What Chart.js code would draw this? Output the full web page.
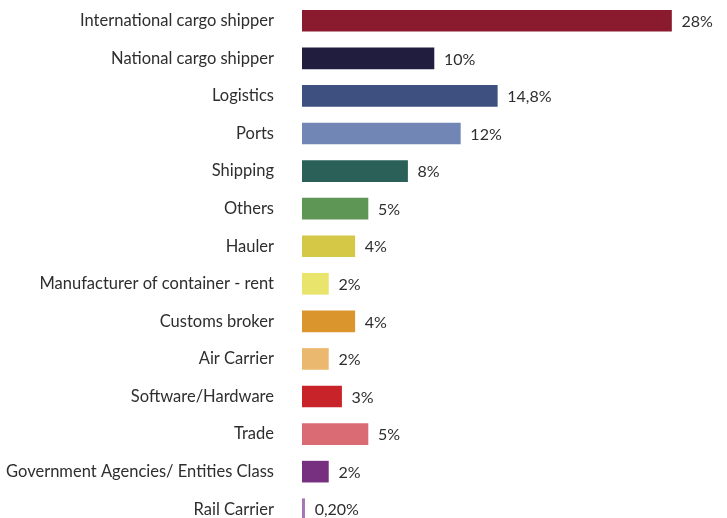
<!DOCTYPE html>
<html>
<head>
<meta charset="utf-8">
<script src="https://cdn.jsdelivr.net/npm/chart.js@4/dist/chart.umd.min.js"></script>
<style>
  html, body { margin: 0; padding: 0; background: #fff; overflow: hidden; }
  canvas { display: block; }
</style>
</head>
<body>
<canvas id="c" width="727" height="529"></canvas>
<script>
// Respondent profile: share of each activity sector
const categories = [
  "International cargo shipper",
  "National cargo shipper",
  "Logistics",
  "Ports",
  "Shipping",
  "Others",
  "Hauler",
  "Manufacturer of container - rent",
  "Customs broker",
  "Air Carrier",
  "Software/Hardware",
  "Trade",
  "Government Agencies/ Entities Class",
  "Rail Carrier"
];
const values = [28, 10, 14.8, 12, 8, 5, 4, 2, 4, 2, 3, 5, 2, 0.2];
const valueLabels = ["28%", "10%", "14,8%", "12%", "8%", "5%", "4%", "2%", "4%", "2%", "3%", "5%", "2%", "0,20%"];
const barColors = [
  "#8A1A2E", "#201D3F", "#3D5080", "#7286B5", "#2A6058", "#5E9655", "#D5C846",
  "#E9E46C", "#DA962C", "#EBB870", "#C9232A", "#DA6A74", "#76307F", "#A774B5"
];

const FONT = "Lato, 'Open Sans', sans-serif";
const TEXT = "#2e2e2e";

// Writes each value at the end of its bar
const valueLabelPlugin = {
  id: "valueLabels",
  afterDatasetsDraw(chart) {
    const ctx = chart.ctx;
    const meta = chart.getDatasetMeta(0);
    ctx.save();
    ctx.font = "16px " + FONT;
    ctx.fillStyle = TEXT;
    ctx.textAlign = "left";
    ctx.textBaseline = "middle";
    meta.data.forEach((bar, i) => {
      ctx.fillText(valueLabels[i], bar.x + 10, bar.y + 1);
    });
    ctx.restore();
  }
};

new Chart(document.getElementById("c"), {
  type: "bar",
  data: {
    labels: categories,
    datasets: [{
      data: values,
      backgroundColor: barColors,
      borderWidth: 0,
      barThickness: 21
    }]
  },
  options: {
    indexAxis: "y",
    responsive: false,
    maintainAspectRatio: false,
    animation: false,
    layout: { padding: { top: 2, bottom: 1, left: 0, right: 8 } },
    plugins: { legend: { display: false }, tooltip: { enabled: false } },
    scales: {
      x: {
        display: false,
        min: 0,
        max: 31.6
      },
      y: {
        grid: { display: false, drawTicks: false },
        border: { display: false },
        ticks: {
          color: TEXT,
          padding: 28,
          font: { family: FONT, size: 16.5 }
        },
        afterFit(scale) {
          scale.width = 302;
          scale.paddingTop = 0;
          scale.paddingBottom = 0;
        }
      }
    }
  },
  plugins: [valueLabelPlugin]
});
</script>
</body>
</html>
